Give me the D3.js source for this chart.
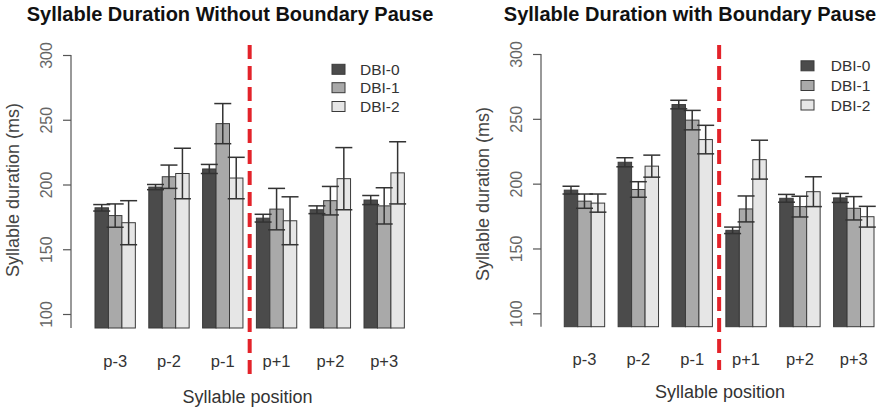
<!DOCTYPE html>
<html><head><meta charset="utf-8">
<script src="https://cdn.jsdelivr.net/npm/d3@7"></script>
<style>
html,body{margin:0;padding:0;background:#fff;}
svg{display:block;font-family:"Liberation Sans",Arial,sans-serif;}
</style></head>
<body><svg id="chart" width="882" height="411"></svg>
<script>
// ---- data ----
const categories = ["p-3","p-2","p-1","p+1","p+2","p+3"];
const seriesNames = ["DBI-0","DBI-1","DBI-2"];
const yTicks = [100,150,200,250,300];

// Without boundary pause (means, ms) and error half-widths
const noPauseDBI0 = [182, 198, 212, 174, 180.5, 188];
const noPauseDBI1 = [176, 206, 247, 181, 187.5, 183.5];
const noPauseDBI2 = [170.5, 208.5, 205, 172, 204.5, 209];
const noPauseErr0 = [2.5, 2, 3.5, 3, 3, 3.5];
const noPauseErr1 = [9, 9, 15.5, 16, 11, 14];
const noPauseErr2 = [17, 19.5, 16, 18.5, 24, 24];

// With boundary pause
const pauseDBI0 = [195, 216.5, 261, 164, 188.7, 189];
const pauseDBI1 = [186.5, 195.5, 249, 180.5, 182.3, 181];
const pauseDBI2 = [185, 213.5, 234, 218.5, 193.8, 174.5];
const pauseErr0 = [3, 3.5, 3.3, 2.5, 3, 3.5];
const pauseErr1 = [5.5, 6, 7.5, 10, 8, 9];
const pauseErr2 = [7, 8.5, 11, 15, 11.5, 8];

const fills = ["#4b4b4b","#a9a9a9","#e6e6e6"];

const svg = d3.select("#chart");

function drawPanel(opt){
  const g = svg.append("g");
  const nUnits = categories.length*(seriesNames.length+1);
  const x = d3.scaleLinear().domain([0,nUnits]).range(opt.xRange);
  const y = d3.scaleLinear().domain([100,300]).range(opt.yRange);
  const bw = x(1)-x(0);
  const bottomVal = y.invert(opt.bottom);
  const means=[opt.m0,opt.m1,opt.m2], errs=[opt.e0,opt.e1,opt.e2];

  // title
  g.append("text").attr("x",opt.titleX).attr("y",21).attr("text-anchor","middle")
    .attr("font-size",20).attr("font-weight","bold").attr("fill","#111").text(opt.title);

  // y axis
  const ax = g.append("g").attr("transform",`translate(${opt.axisX},0)`)
    .call(d3.axisLeft(y).tickValues(yTicks).tickSize(8).tickSizeOuter(0));
  ax.select(".domain").remove();
  ax.selectAll(".tick line").attr("stroke","#555").attr("stroke-width",1.2);
  ax.selectAll(".tick text").attr("x",null).attr("dy",null)
    .attr("transform",`translate(-19,0) rotate(-90)`)
    .attr("text-anchor","middle").attr("font-size",16).attr("fill","#666")
    .attr("font-family","Liberation Sans, Arial, sans-serif");
  g.append("line").attr("x1",opt.axisX).attr("x2",opt.axisX)
    .attr("y1",y(300)).attr("y2",opt.bottom).attr("stroke","#555").attr("stroke-width",1.2);

  g.append("text").attr("transform",`translate(${opt.yTitleX},${opt.yTitleY}) rotate(-90)`)
    .attr("text-anchor","middle").attr("font-size",18).attr("fill","#444")
    .text("Syllable duration (ms)");

  // bars
  categories.forEach((c,gi)=>{
    seriesNames.forEach((s,si)=>{
      const u = gi*(seriesNames.length+1)+1+si;
      const v = means[si][gi];
      g.append("rect").attr("x",x(u)).attr("width",bw)
        .attr("y",y(v)).attr("height",opt.bottom-y(v))
        .attr("fill",fills[si]).attr("stroke","#3a3a3a").attr("stroke-width",1);
    });
  });
  // error bars
  categories.forEach((c,gi)=>{
    seriesNames.forEach((s,si)=>{
      const u = gi*(seriesNames.length+1)+1+si;
      const cx = x(u+0.5);
      const v = means[si][gi], e = errs[si][gi];
      const eg = g.append("g").attr("stroke","#333").attr("stroke-width",1.5);
      eg.append("line").attr("x1",cx).attr("x2",cx).attr("y1",y(v+e)).attr("y2",y(v-e));
      eg.append("line").attr("x1",cx-8.5).attr("x2",cx+8.5).attr("y1",y(v+e)).attr("y2",y(v+e));
      eg.append("line").attr("x1",cx-8.5).attr("x2",cx+8.5).attr("y1",y(v-e)).attr("y2",y(v-e));
    });
    g.append("text").attr("x",x(gi*4+2.5)).attr("y",opt.catY).attr("text-anchor","middle")
      .attr("font-size",16.5).attr("fill","#333").text(c);
  });

  // x title
  g.append("text").attr("x",opt.xTitleX).attr("y",opt.xTitleY).attr("text-anchor","middle")
    .attr("font-size",18).attr("fill","#333").text("Syllable position");

  // boundary line
  g.append("line").attr("x1",x(12.5)).attr("x2",x(12.5)).attr("y1",opt.dash[0]).attr("y2",opt.dash[1])
    .attr("stroke","#e3232a").attr("stroke-width",4).attr("stroke-dasharray","14,7");

  // legend
  seriesNames.forEach((s,si)=>{
    const cy = opt.legRows[si];
    g.append("rect").attr("x",opt.legX).attr("y",cy-5).attr("width",13).attr("height",10)
      .attr("fill",fills[si]).attr("stroke","#3a3a3a").attr("stroke-width",1);
    g.append("text").attr("x",opt.legTextX).attr("y",cy+5.5).attr("font-size",15.5)
      .attr("fill","#333").text(s);
  });
}

drawPanel({
  title:"Syllable Duration Without Boundary Pause", titleX:230,
  xRange:[81.55,404.35], yRange:[314,55], bottom:328, axisX:71,
  yTitleX:19, yTitleY:190, catY:367, xTitleX:247.5, xTitleY:403,
  dash:[45,377], legX:332, legTextX:360, legRows:[69.3,87.7,106.5],
  m0:noPauseDBI0, m1:noPauseDBI1, m2:noPauseDBI2, e0:noPauseErr0, e1:noPauseErr1, e2:noPauseErr2
});
drawPanel({
  title:"Syllable Duration with Boundary Pause", titleX:690,
  xRange:[550.8,874], yRange:[313.3,54], bottom:326.7, axisX:541,
  yTitleX:489, yTitleY:194, catY:365, xTitleX:720, xTitleY:398,
  dash:[45,370], legX:801, legTextX:830.7, legRows:[65.8,85.5,105],
  m0:pauseDBI0, m1:pauseDBI1, m2:pauseDBI2, e0:pauseErr0, e1:pauseErr1, e2:pauseErr2
});
</script>
</body></html>
